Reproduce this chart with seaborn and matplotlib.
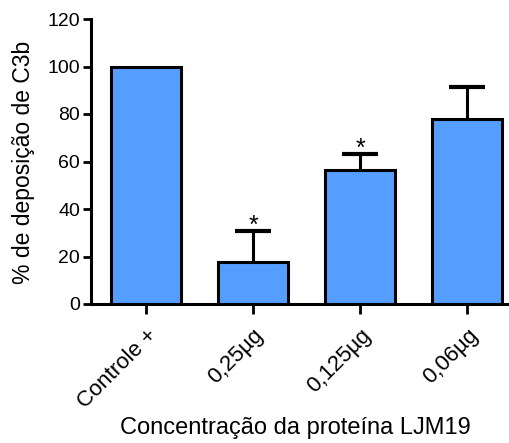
import matplotlib
matplotlib.use("Agg")
import matplotlib.pyplot as plt
import seaborn as sns
import pandas as pd
import numpy as np

groups = ["Controle +", "0,25µg", "0,125µg", "0,06µg"]
means = [100.0, 17.5, 56.3, 77.8]
sem = [0.0, 13.2, 6.7, 13.6]
significant = [False, True, True, False]

sns.set_theme(style="ticks")
plt.rcParams["font.family"] = ["Liberation Sans", "DejaVu Sans"]
for key in ("text.color", "axes.labelcolor", "xtick.color", "ytick.color",
            "axes.edgecolor"):
    plt.rcParams[key] = "black"

df = pd.DataFrame({"grupo": groups, "valor": means})

fig = plt.figure(figsize=(5.09, 4.43), dpi=100)
ax = fig.add_axes([91 / 509, 139 / 443, 418 / 509, 285 / 443])

sns.barplot(data=df, x="grupo", y="valor", color="#559eff", saturation=1,
            width=0.654, edgecolor="black", linewidth=2.2, ax=ax, zorder=3)

# upper-only error bars (SEM) for the groups that have one
x = np.arange(len(groups))
err = np.array(sem)
mean_arr = np.array(means)
has_err = err > 0
eb = ax.errorbar(x[has_err], mean_arr[has_err],
                 yerr=[np.zeros(has_err.sum()), err[has_err]], fmt="none",
                 ecolor="black", elinewidth=2.2, capsize=13, capthick=3,
                 zorder=2)
eb[1][0].set_visible(False)  # hide the lower cap hidden behind the bar top

for xi, m, e, s in zip(x, means, err, significant):
    if s:
        ax.text(xi, m + e - 0.8, "*", ha="center", va="baseline", fontsize=18)

ax.set_ylim(0, 120)
ax.set_yticks(range(0, 121, 20))
ax.set_xlim(-0.514, 3.39)
ax.set_xticks(x)
ax.set_xticklabels(groups, rotation=45, ha="right", rotation_mode="anchor",
                   fontsize=16)
ax.tick_params(axis="y", labelsize=14, width=2, length=6, pad=2)
ax.tick_params(axis="x", width=2, length=7, pad=8)
ax.set_xlabel("Concentração da proteína LJM19", fontsize=17)
ax.set_ylabel("% de deposição de C3b", fontsize=16.5)
ax.xaxis.set_label_coords(0.488, -0.395)
ax.yaxis.set_label_coords(-0.134, 0.498)

sns.despine(ax=ax)
for side in ("left", "bottom"):
    ax.spines[side].set_linewidth(2.2)

fig.savefig("out.png", dpi=100)
